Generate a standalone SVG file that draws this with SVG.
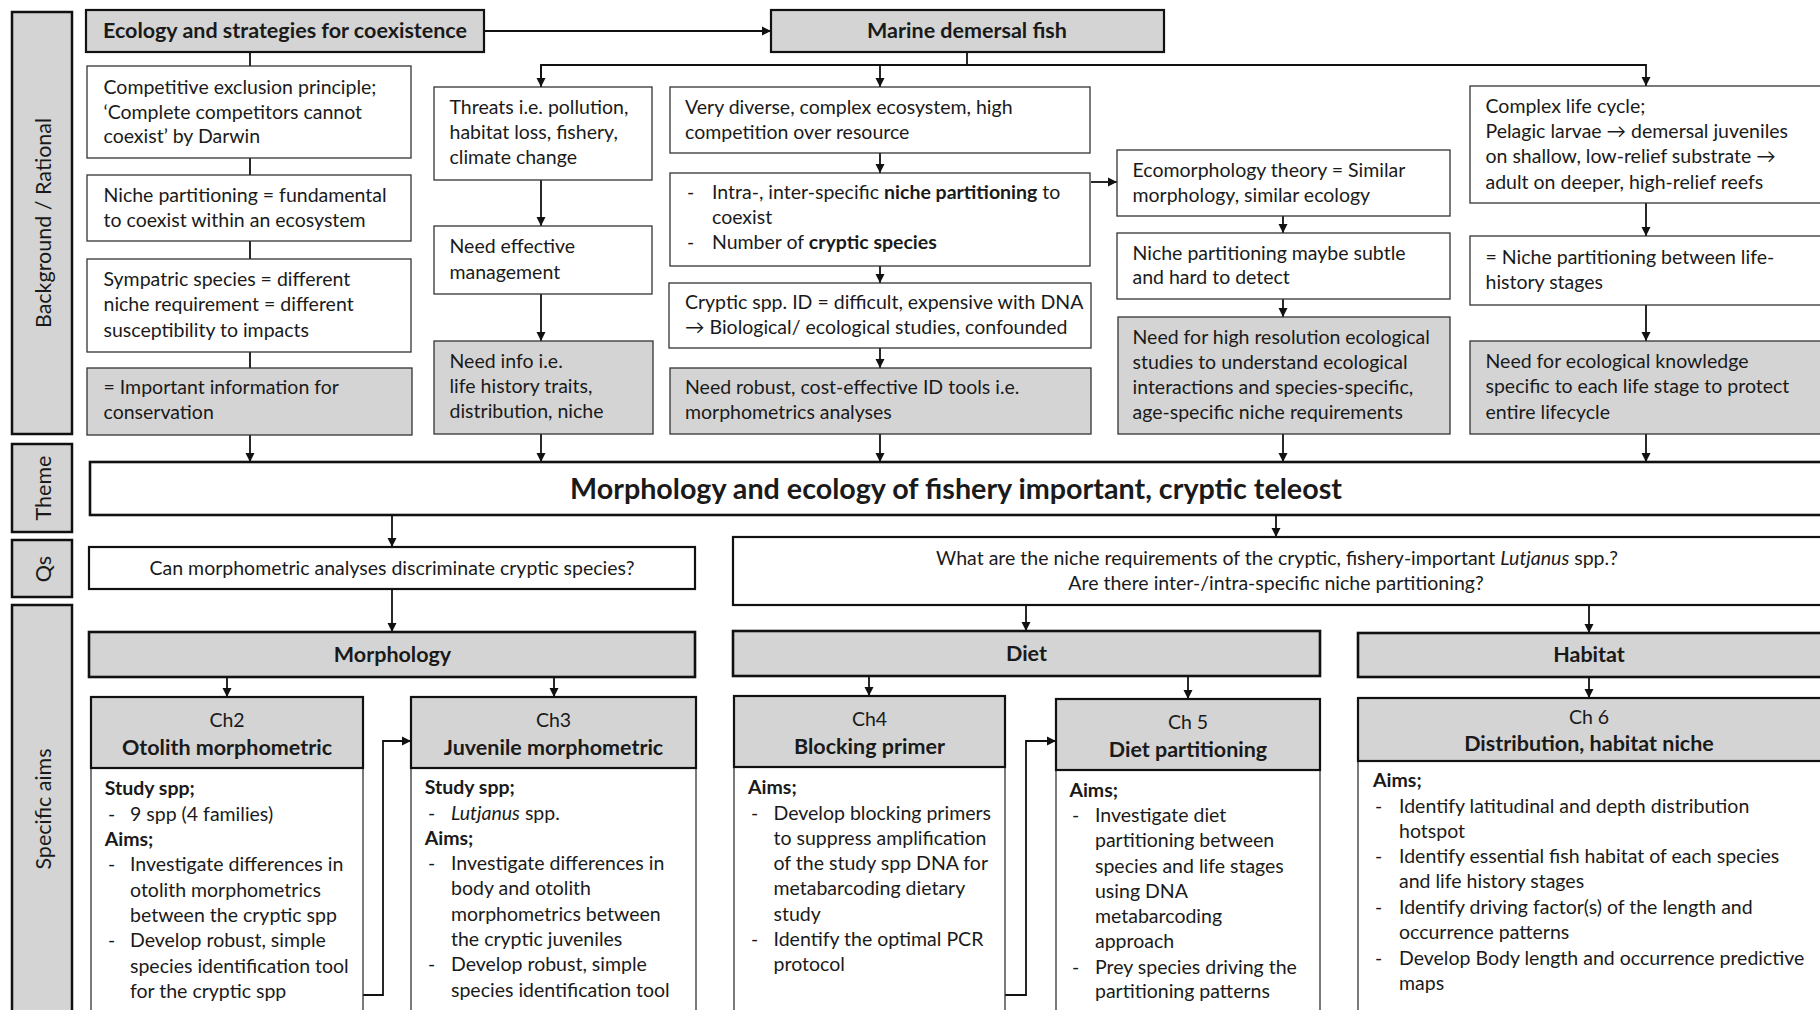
<svg xmlns="http://www.w3.org/2000/svg" width="1820" height="1010" viewBox="0 0 1820 1010">
<style>
text{font-family:Lato,"Liberation Sans",sans-serif;font-size:19.5px;fill:#1a1a1a}
.b{font-weight:bold}
.i{font-style:italic}
.c{text-anchor:middle}
.box{fill:#fff;stroke:#333;stroke-width:1.3}
.gbox{fill:#d4d4d4;stroke:#333;stroke-width:1.3}
.hbox{fill:#d4d4d4;stroke:#111;stroke-width:2.2}
.wbox{fill:#fff;stroke:#111;stroke-width:2.2}
.lab{fill:#d4d4d4;stroke:#111;stroke-width:2.5}
.lt{font-size:21.5px}
.ln{fill:none;stroke:#111;stroke-width:1.8}
.title{font-size:28.7px;font-weight:bold}
.hd{font-size:21.5px;font-weight:bold}
</style>
<defs>
<marker id="ah" markerUnits="userSpaceOnUse" markerWidth="10" markerHeight="10" refX="9" refY="5" orient="auto">
<path d="M0,0.5 L9,5 L0,9.5 z" fill="#111"/>
</marker>
</defs>

<g id="lbl-background"><rect class="lab" x="12" y="12" width="60" height="422"/><text class="c lt" transform="translate(51,223) rotate(-90)">Background / Rational</text></g>
<g id="lbl-theme"><rect class="lab" x="12" y="444" width="60" height="88"/><text class="c lt" transform="translate(51,488) rotate(-90)">Theme</text></g>
<g id="lbl-qs"><rect class="lab" x="12" y="540" width="60" height="57"/><text class="c lt" transform="translate(51,569) rotate(-90)">Qs</text></g>
<g id="lbl-aims"><rect class="lab" x="12" y="605" width="60" height="420"/><text class="c lt" transform="translate(51,809) rotate(-90)">Specific aims</text></g>

<g id="connectors">
<line class="ln" x1="484" y1="31" x2="771" y2="31" marker-end="url(#ah)"/>
<polyline class="ln" points="250,52 250,66"/>
<polyline class="ln" points="250,158 250,175"/>
<polyline class="ln" points="250,241 250,259"/>
<polyline class="ln" points="250,352 250,368"/>
<line class="ln" x1="250" y1="435" x2="250" y2="462" marker-end="url(#ah)"/>
<polyline class="ln" points="967,52 967,65"/>
<polyline class="ln" points="541,87 541,65 1646,65 1646,86" marker-end="url(#ah)"/>
<line class="ln" x1="541" y1="65" x2="541" y2="87" marker-end="url(#ah)"/>
<line class="ln" x1="880" y1="65" x2="880" y2="87" marker-end="url(#ah)"/>
<line class="ln" x1="541" y1="180" x2="541" y2="226" marker-end="url(#ah)"/>
<line class="ln" x1="541" y1="294" x2="541" y2="341" marker-end="url(#ah)"/>
<line class="ln" x1="541" y1="434" x2="541" y2="462" marker-end="url(#ah)"/>
<line class="ln" x1="880" y1="153" x2="880" y2="173" marker-end="url(#ah)"/>
<line class="ln" x1="880" y1="266" x2="880" y2="283" marker-end="url(#ah)"/>
<line class="ln" x1="880" y1="348" x2="880" y2="368" marker-end="url(#ah)"/>
<line class="ln" x1="880" y1="434" x2="880" y2="462" marker-end="url(#ah)"/>
<line class="ln" x1="1091" y1="182" x2="1117" y2="182" marker-end="url(#ah)"/>
<line class="ln" x1="1283" y1="216" x2="1283" y2="233" marker-end="url(#ah)"/>
<line class="ln" x1="1283" y1="299" x2="1283" y2="317" marker-end="url(#ah)"/>
<line class="ln" x1="1283" y1="434" x2="1283" y2="462" marker-end="url(#ah)"/>
<line class="ln" x1="1646" y1="203" x2="1646" y2="236" marker-end="url(#ah)"/>
<line class="ln" x1="1646" y1="305" x2="1646" y2="341" marker-end="url(#ah)"/>
<line class="ln" x1="1646" y1="434" x2="1646" y2="462" marker-end="url(#ah)"/>
<line class="ln" x1="392" y1="515" x2="392" y2="547" marker-end="url(#ah)"/>
<line class="ln" x1="1276" y1="515" x2="1276" y2="537" marker-end="url(#ah)"/>
<line class="ln" x1="392" y1="589" x2="392" y2="632" marker-end="url(#ah)"/>
<line class="ln" x1="1026" y1="605" x2="1026" y2="631" marker-end="url(#ah)"/>
<line class="ln" x1="1589" y1="605" x2="1589" y2="633" marker-end="url(#ah)"/>
<line class="ln" x1="227" y1="677" x2="227" y2="697" marker-end="url(#ah)"/>
<line class="ln" x1="554" y1="677" x2="554" y2="697" marker-end="url(#ah)"/>
<line class="ln" x1="869" y1="676" x2="869" y2="696" marker-end="url(#ah)"/>
<line class="ln" x1="1188" y1="676" x2="1188" y2="699" marker-end="url(#ah)"/>
<line class="ln" x1="1589" y1="677" x2="1589" y2="698" marker-end="url(#ah)"/>
<polyline class="ln" points="363,995 383,995 383,741 411,741" marker-end="url(#ah)"/>
<polyline class="ln" points="1005,995 1026,995 1026,741 1056,741" marker-end="url(#ah)"/>
</g>

<g id="n-ecology"><rect class="hbox" x="86" y="10" width="398" height="42"/><text class="hd c" x="285" y="38">Ecology and strategies for coexistence</text></g>
<g id="n-marine"><rect class="hbox" x="771" y="10" width="393" height="42"/><text class="hd c" x="967" y="38">Marine demersal fish</text></g>

<g id="n-competitive"><rect class="box" x="87" y="66" width="324" height="92"/>
<text x="103.5" y="94">Competitive exclusion principle;</text>
<text x="103.5" y="119">‘Complete competitors cannot</text>
<text x="103.5" y="143">coexist’ by Darwin</text></g>
<g id="n-niche"><rect class="box" x="87" y="175" width="324" height="66"/>
<text x="103.5" y="202">Niche partitioning = fundamental</text>
<text x="103.5" y="227">to coexist within an ecosystem</text></g>
<g id="n-sympatric"><rect class="box" x="87" y="259" width="324" height="93"/>
<text x="103.5" y="286">Sympatric species = different</text>
<text x="103.5" y="311">niche requirement = different</text>
<text x="103.5" y="337">susceptibility to impacts</text></g>
<g id="n-important"><rect class="gbox" x="87" y="368" width="325" height="67"/>
<text x="103.5" y="394">= Important information for</text>
<text x="103.5" y="419">conservation</text></g>

<g id="n-threats"><rect class="box" x="434" y="87" width="218" height="93"/>
<text x="449.5" y="114">Threats i.e. pollution,</text>
<text x="449.5" y="139">habitat loss, fishery,</text>
<text x="449.5" y="164">climate change</text></g>
<g id="n-management"><rect class="box" x="434" y="226" width="218" height="68"/>
<text x="449.5" y="253">Need effective</text>
<text x="449.5" y="279">management</text></g>
<g id="n-needinfo"><rect class="gbox" x="434" y="341" width="219" height="93"/>
<text x="449.5" y="368">Need info i.e.</text>
<text x="449.5" y="393">life history traits,</text>
<text x="449.5" y="418">distribution, niche</text></g>

<g id="n-diverse"><rect class="box" x="670" y="87" width="420" height="66"/>
<text x="685" y="114">Very diverse, complex ecosystem, high</text>
<text x="685" y="139">competition over resource</text></g>
<g id="n-intra"><rect class="box" x="670" y="173" width="420" height="93"/>
<text x="687" y="199">-</text><text x="712" y="199">Intra-, inter-specific <tspan class="b">niche partitioning</tspan> to</text>
<text x="712" y="224">coexist</text>
<text x="687" y="249">-</text><text x="712" y="249">Number of <tspan class="b">cryptic species</tspan></text></g>
<g id="n-cryptic"><rect class="box" x="669" y="283" width="422" height="65"/>
<text x="685" y="309">Cryptic spp. ID = difficult, expensive with DNA</text>
<text x="685" y="334">→ Biological/ ecological studies, confounded</text></g>
<g id="n-robust"><rect class="gbox" x="670" y="368" width="421" height="66"/>
<text x="685" y="394">Need robust, cost-effective ID tools i.e.</text>
<text x="685" y="419">morphometrics analyses</text></g>

<g id="n-ecomorph"><rect class="box" x="1117" y="150" width="333" height="66"/>
<text x="1132.5" y="177">Ecomorphology theory = Similar</text>
<text x="1132.5" y="202">morphology, similar ecology</text></g>
<g id="n-subtle"><rect class="box" x="1117" y="233" width="333" height="66"/>
<text x="1132.5" y="260">Niche partitioning maybe subtle</text>
<text x="1132.5" y="284">and hard to detect</text></g>
<g id="n-highres"><rect class="gbox" x="1118" y="317" width="332" height="117"/>
<text x="1132.5" y="344">Need for high resolution ecological</text>
<text x="1132.5" y="369">studies to understand ecological</text>
<text x="1132.5" y="394">interactions and species-specific,</text>
<text x="1132.5" y="419">age-specific niche requirements</text></g>

<g id="n-lifecycle"><rect class="box" x="1470" y="86" width="360" height="117"/>
<text x="1485.5" y="113">Complex life cycle;</text>
<text x="1485.5" y="138">Pelagic larvae → demersal juveniles</text>
<text x="1485.5" y="163">on shallow, low-relief substrate →</text>
<text x="1485.5" y="189">adult on deeper, high-relief reefs</text></g>
<g id="n-lifestages"><rect class="box" x="1470" y="236" width="360" height="69"/>
<text x="1485.5" y="264">= Niche partitioning between life-</text>
<text x="1485.5" y="289">history stages</text></g>
<g id="n-knowledge"><rect class="gbox" x="1470" y="341" width="360" height="93"/>
<text x="1485.5" y="368">Need for ecological knowledge</text>
<text x="1485.5" y="393">specific to each life stage to protect</text>
<text x="1485.5" y="419">entire lifecycle</text></g>

<g id="n-theme"><rect class="wbox" x="90" y="462" width="1740" height="53" style="stroke-width:2.6"/>
<text class="title c" x="956" y="499">Morphology and ecology of fishery important, cryptic teleost</text></g>

<g id="n-q1"><rect class="wbox" x="89" y="547" width="606" height="42"/>
<text class="c" x="392" y="575">Can morphometric analyses discriminate cryptic species?</text></g>
<g id="n-q2"><rect class="wbox" x="733" y="537" width="1097" height="68"/>
<text class="c" x="1277" y="565">What are the niche requirements of the cryptic, fishery-important <tspan class="i">Lutjanus</tspan> spp.?</text>
<text class="c" x="1276" y="590">Are there inter-/intra-specific niche partitioning?</text></g>

<g id="n-morphology"><rect class="hbox" x="89" y="632" width="606" height="45" style="stroke-width:2.6"/><text class="hd c" x="392.5" y="662">Morphology</text></g>
<g id="n-diet"><rect class="hbox" x="733" y="631" width="587" height="45" style="stroke-width:2.6"/><text class="hd c" x="1026.5" y="661">Diet</text></g>
<g id="n-habitat"><rect class="hbox" x="1358" y="633" width="472" height="44" style="stroke-width:2.6"/><text class="hd c" x="1589" y="662">Habitat</text></g>

<g id="n-ch2"><rect class="box" x="91" y="768" width="272" height="260"/><rect class="hbox" x="91" y="697" width="272" height="71"/>
<text class="c" x="227" y="727">Ch2</text><text class="hd c" x="227" y="755">Otolith morphometric</text>
<text class="b" x="104.7" y="795">Study spp;</text>
<text x="108" y="820.5">-</text><text x="130" y="820.5">9 spp (4 families)</text>
<text class="b" x="104.7" y="845.5">Aims;</text>
<text x="108" y="871">-</text><text x="130" y="871">Investigate differences in</text>
<text x="130" y="896.5">otolith morphometrics</text>
<text x="130" y="921.5">between the cryptic spp</text>
<text x="108" y="947">-</text><text x="130" y="947">Develop robust, simple</text>
<text x="130" y="972.5">species identification tool</text>
<text x="130" y="997.5">for the cryptic spp</text></g>

<g id="n-ch3"><rect class="box" x="411" y="768" width="285" height="260"/><rect class="hbox" x="411" y="697" width="285" height="71"/>
<text class="c" x="553.5" y="727">Ch3</text><text class="hd c" x="553.5" y="755">Juvenile morphometric</text>
<text class="b" x="424.7" y="794">Study spp;</text>
<text x="428" y="819.6">-</text><text x="451" y="819.6"><tspan class="i">Lutjanus</tspan> spp.</text>
<text class="b" x="424.7" y="844.8">Aims;</text>
<text x="428" y="869.6">-</text><text x="451" y="869.6">Investigate differences in</text>
<text x="451" y="894.7">body and otolith</text>
<text x="451" y="920.6">morphometrics between</text>
<text x="451" y="945.8">the cryptic juveniles</text>
<text x="428" y="971.3">-</text><text x="451" y="971.3">Develop robust, simple</text>
<text x="451" y="996.5">species identification tool</text></g>

<g id="n-ch4"><rect class="box" x="734" y="767" width="271" height="260"/><rect class="hbox" x="734" y="696" width="271" height="71"/>
<text class="c" x="869.5" y="726">Ch4</text><text class="hd c" x="869.5" y="754">Blocking primer</text>
<text class="b" x="748" y="794">Aims;</text>
<text x="751" y="819.6">-</text><text x="773.5" y="819.6">Develop blocking primers</text>
<text x="773.5" y="844.8">to suppress amplification</text>
<text x="773.5" y="869.6">of the study spp DNA for</text>
<text x="773.5" y="894.7">metabarcoding dietary</text>
<text x="773.5" y="920.6">study</text>
<text x="751" y="945.8">-</text><text x="773.5" y="945.8">Identify the optimal PCR</text>
<text x="773.5" y="970.6">protocol</text></g>

<g id="n-ch5"><rect class="box" x="1056" y="770" width="264" height="260"/><rect class="hbox" x="1056" y="699" width="264" height="71"/>
<text class="c" x="1188" y="729">Ch 5</text><text class="hd c" x="1188" y="757">Diet partitioning</text>
<text class="b" x="1069.4" y="796.7">Aims;</text>
<text x="1072" y="821.9">-</text><text x="1095" y="821.9">Investigate diet</text>
<text x="1095" y="846.7">partitioning between</text>
<text x="1095" y="872.6">species and life stages</text>
<text x="1095" y="897.7">using DNA</text>
<text x="1095" y="923.2">metabarcoding</text>
<text x="1095" y="948.4">approach</text>
<text x="1072" y="973.5">-</text><text x="1095" y="973.5">Prey species driving the</text>
<text x="1095" y="998.3">partitioning patterns</text></g>

<g id="n-ch6"><rect class="box" x="1358" y="761" width="472" height="270"/><rect class="hbox" x="1358" y="698" width="472" height="63"/>
<text class="c" x="1589" y="724">Ch 6</text><text class="hd c" x="1589" y="751">Distribution, habitat niche</text>
<text class="b" x="1373" y="787">Aims;</text>
<text x="1375" y="813">-</text><text x="1399" y="813">Identify latitudinal and depth distribution</text>
<text x="1399" y="838">hotspot</text>
<text x="1375" y="863">-</text><text x="1399" y="863">Identify essential fish habitat of each species</text>
<text x="1399" y="888">and life history stages</text>
<text x="1375" y="914">-</text><text x="1399" y="914">Identify driving factor(s) of the length and</text>
<text x="1399" y="939">occurrence patterns</text>
<text x="1375" y="965">-</text><text x="1399" y="965">Develop Body length and occurrence predictive</text>
<text x="1399" y="990">maps</text></g>
</svg>
